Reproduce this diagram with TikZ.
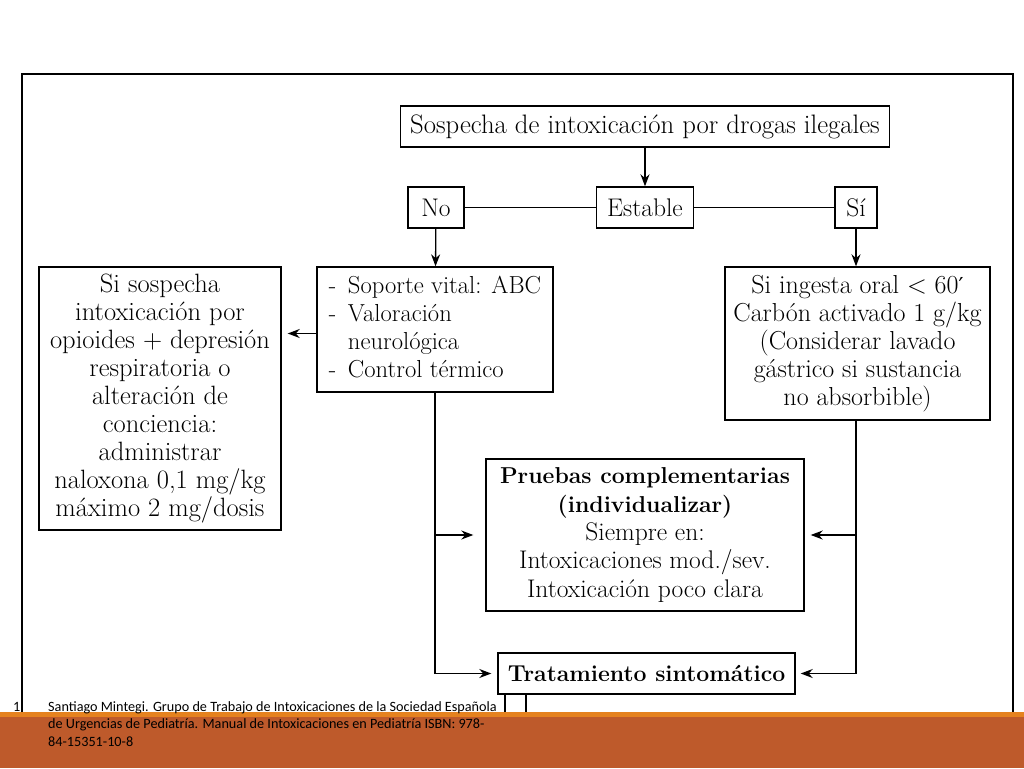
\documentclass[tikz,border=0pt]{standalone}
\usepackage{fontspec}
\newfontfamily\footfont{Carlito}
\newfontfamily\symfont{DejaVu Serif}
\usetikzlibrary{arrows.meta}
\definecolor{barmain}{HTML}{BE5A2B}
\definecolor{barline}{HTML}{E5821F}
\newcommand\boldf{\fontsize{23}{28.3}\selectfont\bfseries}
\begin{document}
\begin{tikzpicture}[x=1pt,y=-1pt,
  box/.style={draw, line width=1.4pt, inner sep=0pt, align=center,
    font=\fontsize{25.5}{28.3}\selectfont},
  conn/.style={line width=1.3pt},
  arr/.style={conn, -{Stealth[length=12pt,width=9pt]}},
  foot/.style={font=\footfont\fontsize{14.2}{17.7}\selectfont, anchor=base west, inner sep=0pt}]
\useasboundingbox (0,0) rectangle (1024,768);
% frame
\draw[line width=1.6pt] (22,712) -- (22,74) -- (1013,74) -- (1013,712);
% boxes
\node[box, minimum width=489pt, minimum height=41pt, font=\fontsize{26.7}{28.3}\selectfont] (top) at (645,126.5) {Sospecha de intoxicación por drogas ilegales};
\node[box, minimum width=97pt, minimum height=41pt] (est) at (645,207.5) {Estable};
\node[box, minimum width=56pt, minimum height=41pt] (no) at (436,207.5) {No};
\node[box, minimum width=42pt, minimum height=41pt] (si) at (856,207.5) {Sí};
\node[box, minimum width=236pt, minimum height=125pt,
  font=\fontsize{24.6}{28}\selectfont] (sop) at (435,329.5)
  {\begin{tabular}{@{}l@{}}\makebox[19pt][l]{-}Soporte vital: ABC\\ \makebox[19pt][l]{-}Valoración\\ \hspace*{19pt}neurológica\\ \makebox[19pt][l]{-}Control térmico\end{tabular}};
\node[box, minimum width=242pt, minimum height=263pt, font=\fontsize{26.5}{28}\selectfont] (izq) at (160,398.5)
  {Si sospecha\\ intoxicación por\\ opioides + depresión\\ respiratoria o\\ alteración de\\ conciencia:\\ administrar\\ naloxona 0,1 mg/kg\\ máximo 2 mg/dosis};
\node[box, minimum width=265pt, minimum height=153pt, font=\fontsize{26}{28}\selectfont] (der) at (857.5,343.5)
  {Si ingesta oral < 60{\symfont\fontsize{22}{28}\selectfont ′}\\ Carbón activado 1 g/kg\\ (Considerar lavado\\ gástrico si sustancia\\ no absorbible)};
\node[box, minimum width=318pt, minimum height=152pt] (pru) at (645,535)
  {{\boldf Pruebas complementarias}\\ {\boldf (individualizar)}\\ Siempre en:\\ Intoxicaciones mod./sev.\\ Intoxicación poco clara};
\node[box, minimum width=297pt, minimum height=41pt] (trat) at (646.5,673.5)
  {\boldf Tratamiento sintomático};
% connectors
\draw[arr] (top) -- (est);
\draw[conn] (no) -- (est);
\draw[conn] (est) -- (si);
\draw[arr] (no) -- (sop);
\draw[arr] (si) -- (si |- der.north);
\draw[arr, shorten >=6pt] ([yshift=-4pt]sop.west) -- ([yshift=-4pt]sop.west -| izq.east);
\draw[arr, shorten >=6pt] (sop.south) |- (trat.west);
\draw[arr, shorten >=12pt] (sop.south |- pru.west) -- (pru.west);
\draw[arr, shorten >=5pt] (der.south -| si) |- (trat.east);
\draw[arr, shorten >=6pt] (der.south -| si) |- (pru.east);
% cut-off lines below
\coordinate (c1) at (505,712);
\coordinate (c2) at (526,712);
\draw[conn] (trat.south -| c1) -- (c1);
\draw[conn] (trat.south -| c2) -- (c2);
% bottom bar
\fill[barmain] (0,712) rectangle (1024,768);
\fill[barline] (0,712) rectangle (1024,717);
% footnote
\node[foot] (fn0) at (13,711) {1.};
\node[foot] (fn1) at (48,711) {Santiago Mintegi. Grupo de Trabajo de Intoxicaciones de la Sociedad Española};
\node[foot] (fn2) at (48,728.7) {de Urgencias de Pediatría. Manual de Intoxicaciones en Pediatría ISBN: 978-};
\node[foot] (fn3) at (48,746.4) {84-15351-10-8};
\end{tikzpicture}
\end{document}
